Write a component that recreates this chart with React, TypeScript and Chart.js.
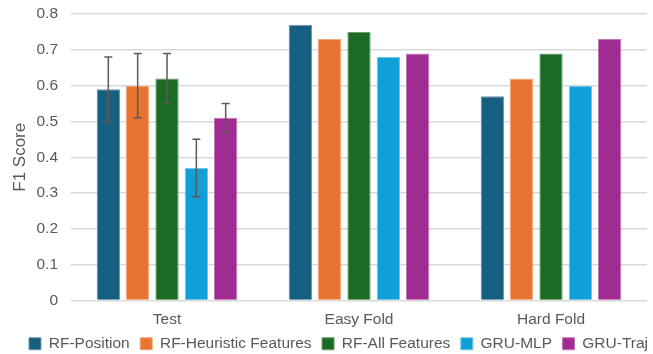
import React, { useEffect, useRef } from "react";
import { Chart, registerables } from "chart.js";

Chart.register(...registerables);

const categories = ["Test", "Easy Fold", "Hard Fold"];
const seriesNames = ["RF-Position", "RF-Heuristic Features", "RF-All Features", "GRU-MLP", "GRU-Traj"];
const rfPosition = [0.59, 0.77, 0.57];
const rfHeuristic = [0.6, 0.73, 0.62];
const rfAll = [0.62, 0.75, 0.69];
const gruMlp = [0.37, 0.68, 0.6];
const gruTraj = [0.51, 0.69, 0.73];
// error ranges [low, high] per category (null = none)
const errPosition = [[0.5, 0.68], null, null];
const errHeuristic = [[0.51, 0.69], null, null];
const errAll = [[0.55, 0.69], null, null];
const errMlp = [[0.29, 0.45], null, null];
const errTraj = [[0.47, 0.55], null, null];
const yTicks = [0, 0.1, 0.2, 0.3, 0.4, 0.5, 0.6, 0.7, 0.8];

const colors = ["#165F81", "#E97431", "#1C6B25", "#119FD7", "#A02B91"];
const borderColors = ["#6E97AB", "#F1A77C", "#6E9C74", "#72C5E6", "#C476B9"];
const FONT = "'Liberation Sans', Arial, Helvetica, sans-serif";

const errorBarPlugin = {
  id: "errorBars",
  afterLayout(chart: any) {
    const lg = chart.legend;
    if (lg) {
      lg.left += 13;
      lg.right += 13;
      lg.top -= 3;
      lg.bottom -= 3;
    }
  },
  afterDatasetsDraw(chart: any) {
    const ctx = chart.ctx;
    const yScale = chart.scales.y;
    chart.data.datasets.forEach((ds: any, i: number) => {
      const meta = chart.getDatasetMeta(i);
      if (!ds.errors) return;
      meta.data.forEach((el: any, j: number) => {
        const e = ds.errors[j];
        if (!e) return;
        const x = el.x;
        const yl = yScale.getPixelForValue(e[0]);
        const yh = yScale.getPixelForValue(e[1]);
        ctx.save();
        ctx.strokeStyle = "#595959";
        ctx.lineWidth = 1.5;
        ctx.beginPath();
        ctx.moveTo(x, yl);
        ctx.lineTo(x, yh);
        ctx.moveTo(x - 4, yl);
        ctx.lineTo(x + 4, yl);
        ctx.moveTo(x - 4, yh);
        ctx.lineTo(x + 4, yh);
        ctx.stroke();
        ctx.restore();
      });
    });
  },
};

export default function App() {
  const ref = useRef<HTMLCanvasElement>(null);
  useEffect(() => {
    document.body.style.margin = "0";
    const values = [rfPosition, rfHeuristic, rfAll, gruMlp, gruTraj];
    const errs = [errPosition, errHeuristic, errAll, errMlp, errTraj];
    const chart = new Chart(ref.current!, {
      type: "bar",
      data: {
        labels: categories,
        datasets: seriesNames.map((name, i) => ({
          label: name,
          data: values[i],
          errors: errs[i],
          backgroundColor: colors[i],
          borderColor: borderColors[i],
          borderWidth: 1,
          categoryPercentage: 0.764,
          barPercentage: 0.795,
        })) as any,
      },
      options: {
        animation: false,
        responsive: false,
        maintainAspectRatio: false,
        layout: { padding: { left: 4, right: 6, top: 14, bottom: -10.5 } },
        plugins: {
          legend: {
            position: "bottom",
            labels: {
              boxWidth: 12,
              boxHeight: 12,
              padding: 10.5,
              color: "#595959",
              font: { family: FONT, size: 15.5 },
            },
          },
          tooltip: { enabled: false },
        },
        scales: {
          x: {
            grid: { display: false, drawTicks: false },
            border: { display: false },
            afterFit: (axis: any) => {
              axis.height = 28;
            },
            ticks: {
              color: "#595959",
              padding: 10,
              font: { family: FONT, size: 15.5 },
            },
          },
          y: {
            min: 0,
            max: 0.8,
            afterBuildTicks: (axis: any) => {
              axis.ticks = yTicks.map((v) => ({ value: v }));
            },
            afterFit: (axis: any) => {
              axis.paddingTop = 0;
              axis.paddingBottom = 0;
              axis.width = 67;
            },
            grid: { color: "#D9D9D9", lineWidth: 1.5, drawTicks: false },
            border: { display: false },
            ticks: {
              color: "#595959",
              padding: 13,
              font: { family: FONT, size: 15.5 },
              callback: (v: any) => String(Math.round(Number(v) * 10) / 10),
            },
            title: {
              display: true,
              text: "F1 Score",
              color: "#595959",
              padding: 5.8,
              font: { family: FONT, size: 17 },
            },
          },
        },
      },
      plugins: [errorBarPlugin],
    });
    return () => chart.destroy();
  }, []);
  return (
    <div style={{ width: 653, height: 354 }}>
      <canvas ref={ref} width={653} height={354} style={{ display: "block" }} />
    </div>
  );
}
